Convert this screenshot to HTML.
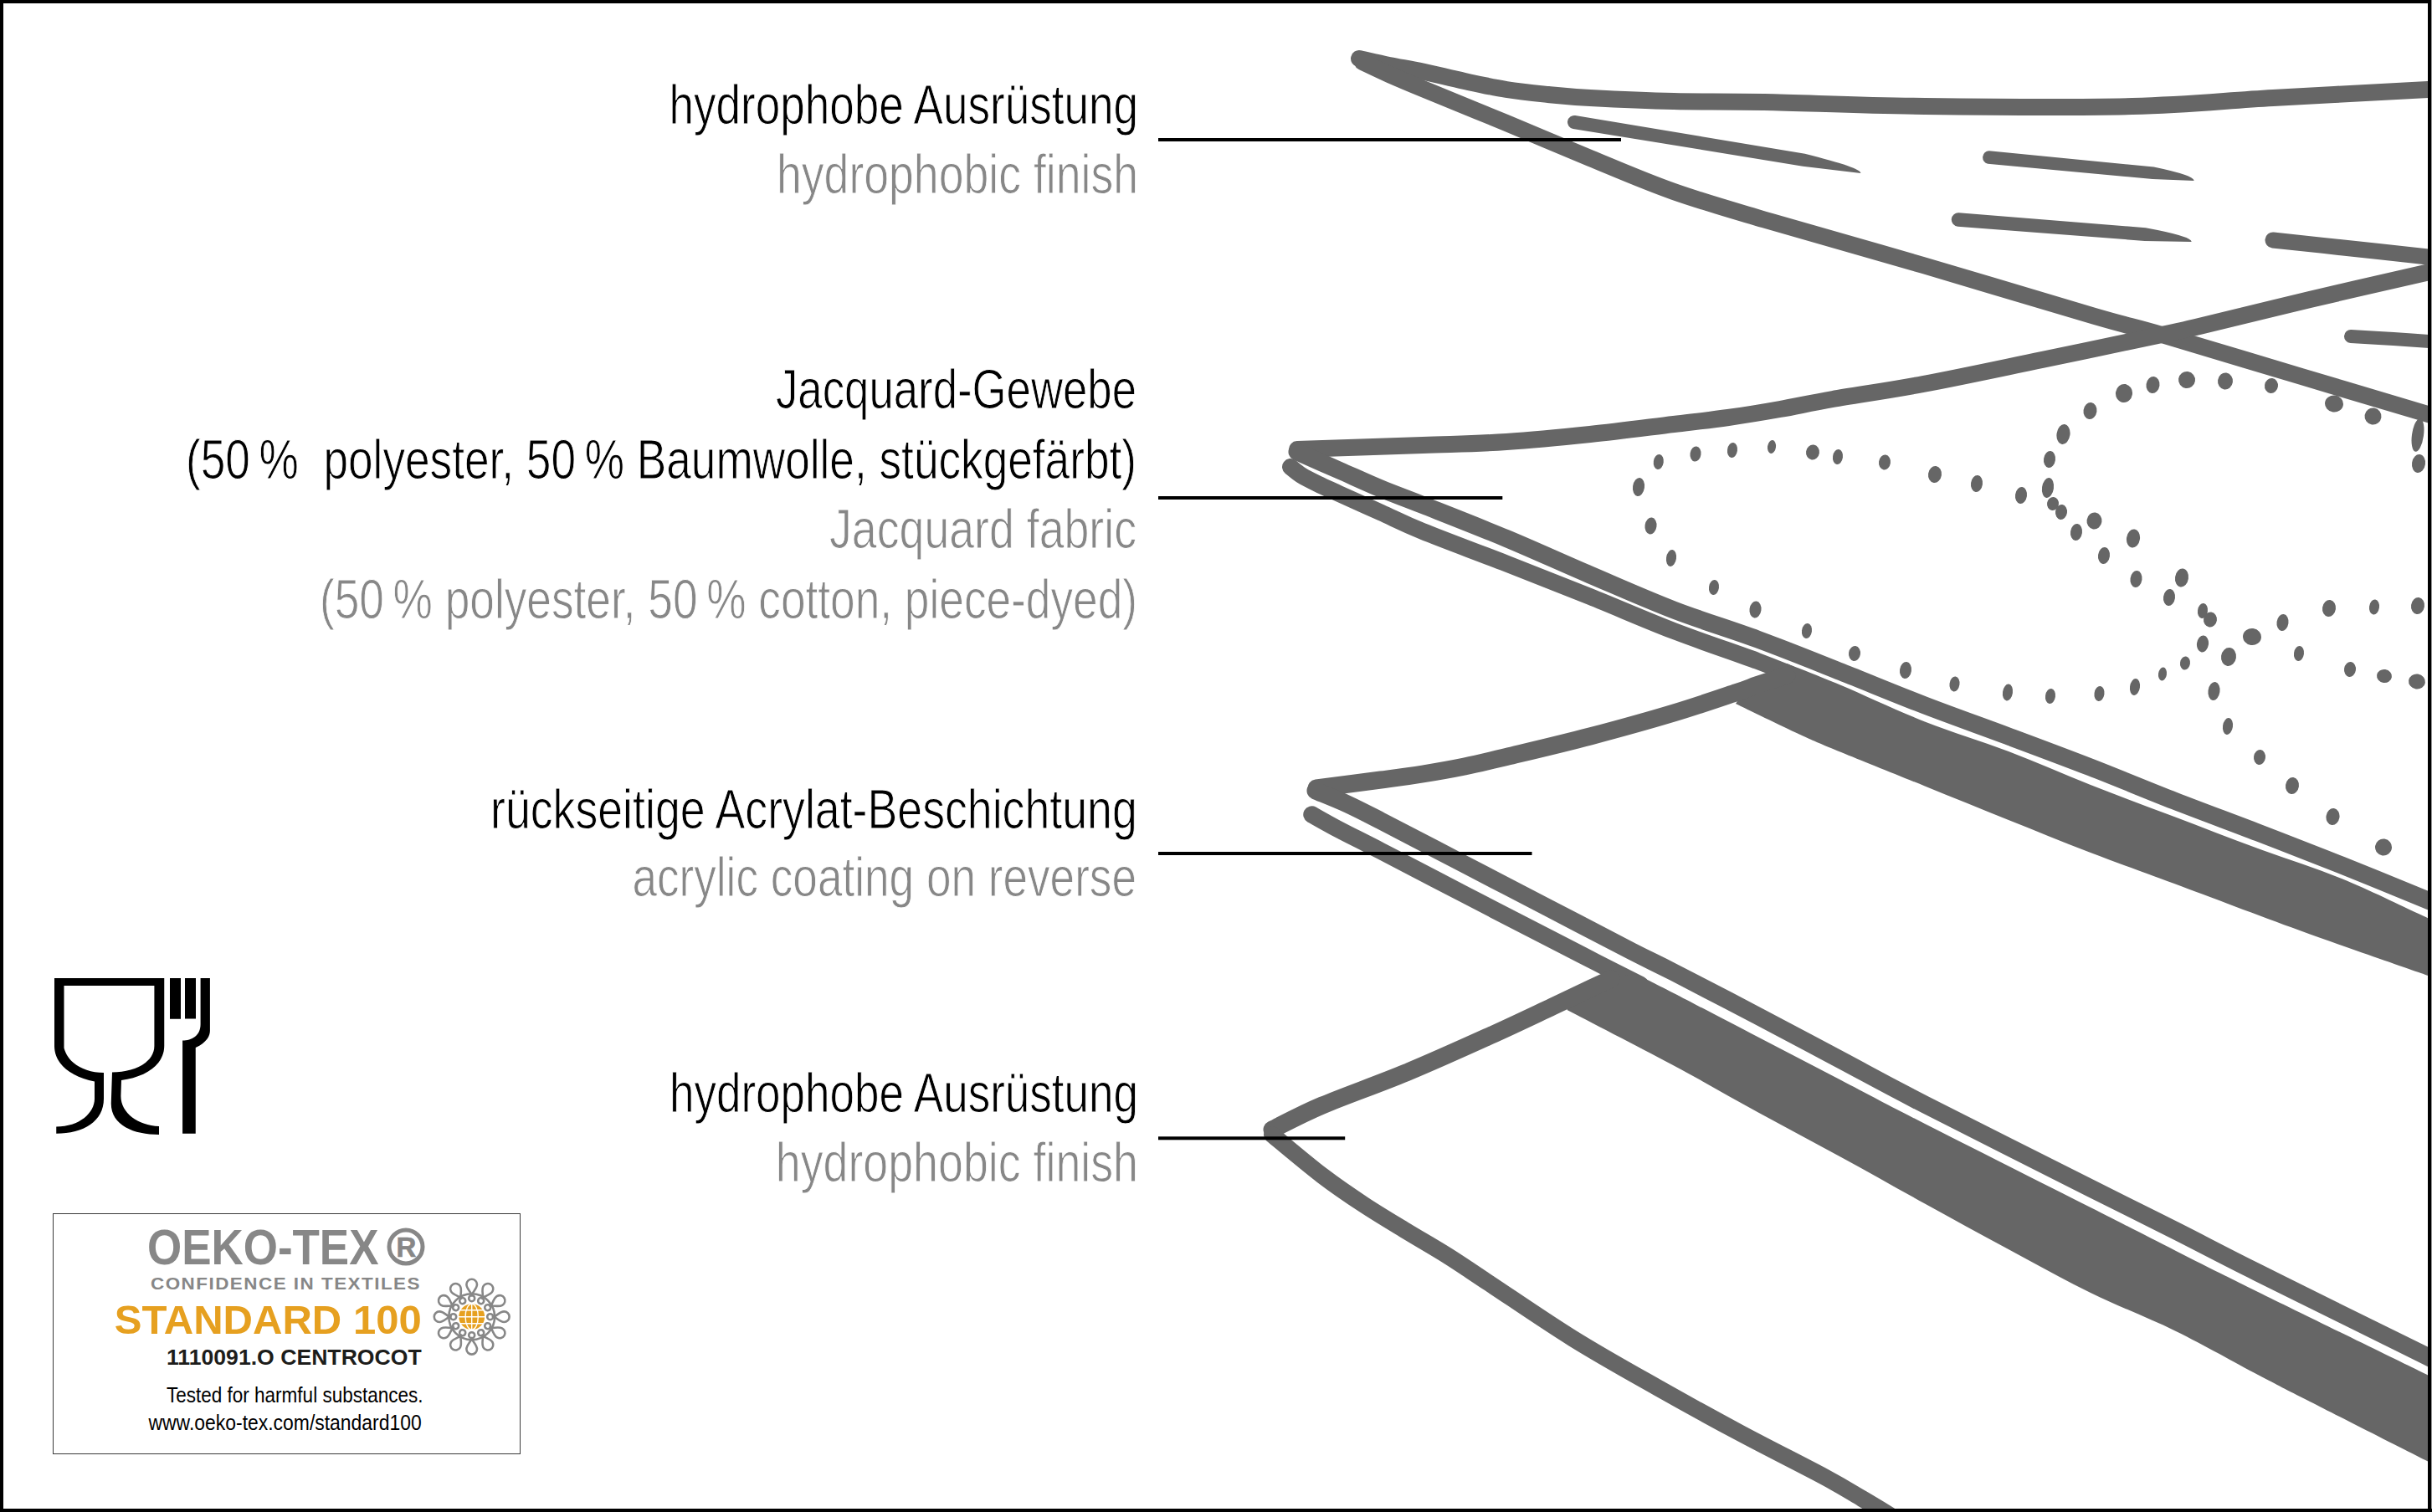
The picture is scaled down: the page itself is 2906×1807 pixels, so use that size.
<!DOCTYPE html>
<html lang="de">
<head>
<meta charset="utf-8">
<title>Materialaufbau</title>
<style>
html,body{margin:0;padding:0;background:#fff;}
body{width:2906px;height:1807px;overflow:hidden;position:relative;font-family:"Liberation Sans",sans-serif;}
#stage{position:absolute;left:0;top:0;width:2906px;height:1807px;display:block;}
.bd{position:absolute;background:#000;}
</style>
</head>
<body>
<svg id="stage" width="2906" height="1807" viewBox="0 0 2906 1807">
<g id="illu">
<path d="M1624,70C1630,71.3 1647.3,75.4 1660,78C1672.7,80.6 1685,82.3 1700,85.5C1715,88.7 1733.3,93.4 1750,97C1766.7,100.6 1783.3,104.3 1800,107C1816.7,109.7 1833.3,111.3 1850,113C1866.7,114.7 1875,115.7 1900,117C1925,118.3 1965.3,120.2 2000,121C2034.7,121.8 2058,121 2108,122C2158,123 2226.7,126.2 2300,127C2373.3,127.8 2478.7,128.7 2548,127C2617.3,125.3 2657.2,120.3 2716,117C2774.8,113.7 2867.8,108.8 2901,107C2934.2,105.2 2912.7,106.2 2915,106" fill="none" stroke="#666666" stroke-width="20" stroke-linecap="round" stroke-linejoin="round"/>
<path d="M1628,74C1633.3,76.5 1648,83.7 1660,89C1672,94.3 1676.7,96.3 1700,106C1723.3,115.7 1766.7,133.2 1800,147C1833.3,160.8 1866.7,175.3 1900,189C1933.3,202.7 1965.3,216.8 2000,229C2034.7,241.2 2058.3,247.8 2108,262.5C2157.7,277.2 2232.2,297.8 2298,317C2363.8,336.2 2455.5,364.2 2503,378C2550.5,391.8 2541.8,388 2583,400C2624.2,412 2697,434.2 2750,450C2803,465.8 2873.5,486.8 2901,495C2928.5,503.2 2912.7,498.3 2915,499" fill="none" stroke="#666666" stroke-width="20" stroke-linecap="round" stroke-linejoin="round"/>
<path d="M1882.3,138.1 L2156.7,183.7 Q2224.4,200.6 2223.3,206.9 L2154.2,198.7 L1879.7,153.9 A8,8 0 0 1 1882.3,138.1 Z" fill="#666666"/>
<path d="M2376.8,180.3 L2573.6,199.5 Q2622.2,209.7 2621.6,215.9 L2572.1,214.1 L2375.2,195.7 A7.8,7.8 0 0 1 2376.8,180.3 Z" fill="#666666"/>
<path d="M2340.7,254.3 L2563.9,272.3 Q2619.2,282.5 2618.7,289.1 L2562.6,287.9 L2339.3,270.7 A8.2,8.2 0 0 1 2340.7,254.3 Z" fill="#666666"/>
<path d="M2716,287C2730,288.5 2769.2,292.7 2800,296C2830.8,299.3 2881.8,304.8 2901,307C2920.2,309.2 2912.7,308.7 2915,309" fill="none" stroke="#666666" stroke-width="19" stroke-linecap="round" stroke-linejoin="round"/>
<path d="M2809,402C2817.5,402.5 2842.3,403.8 2860,405C2877.7,406.2 2905.8,408.3 2915,409" fill="none" stroke="#666666" stroke-width="16" stroke-linecap="round" stroke-linejoin="round"/>
<path d="M1550,537C1575,536.2 1658.3,533.5 1700,532C1741.7,530.5 1766.7,530.2 1800,528C1833.3,525.8 1866.7,522.5 1900,519C1933.3,515.5 1972.5,510.3 2000,507C2027.5,503.7 2043.8,502 2065,499C2086.2,496 2106.2,492.7 2127,489C2147.8,485.3 2161.5,482 2190,477C2218.5,472 2256.3,466.8 2298,459C2339.7,451.2 2392.5,439.8 2440,430C2487.5,420.2 2551.7,406.7 2583,400C2614.3,393.3 2598.5,397 2628,390C2657.5,383 2714.5,368.8 2760,358C2805.5,347.2 2875.2,331.5 2901,325.5C2926.8,319.5 2912.7,322.6 2915,322" fill="none" stroke="#666666" stroke-width="20" stroke-linecap="round" stroke-linejoin="round"/>
<path d="M1550,540C1558.3,543.7 1583.3,554.7 1600,562C1616.7,569.3 1633.3,577.1 1650,584C1666.7,590.9 1675,593.6 1700,603.5C1725,613.4 1766.7,629.6 1800,643.5C1833.3,657.4 1866.7,672.8 1900,687C1933.3,701.2 1966.7,716.2 2000,729C2033.3,741.8 2066.7,751.7 2100,764C2133.3,776.3 2166.7,789.8 2200,803C2233.3,816.2 2266.7,830.2 2300,843C2333.3,855.8 2367,867.7 2400,880C2433,892.3 2465,904.2 2498,917C2531,929.8 2564.7,944 2598,957C2631.3,970 2664.7,982.2 2698,995C2731.3,1007.8 2764.2,1020.5 2798,1034C2831.8,1047.5 2881.5,1068 2901,1076C2920.5,1084 2912.7,1081 2915,1082" fill="none" stroke="#666666" stroke-width="21" stroke-linecap="round" stroke-linejoin="round"/>
<path d="M1542,558C1544.2,559.7 1549.5,564.6 1555,568C1560.5,571.4 1567.5,574.8 1575,578.5C1582.5,582.2 1587.5,584.3 1600,590C1612.5,595.7 1633.3,605 1650,612.5C1666.7,620 1675,624.8 1700,635C1725,645.2 1766.7,660.5 1800,673.5C1833.3,686.5 1866.7,699.6 1900,713C1933.3,726.4 1966.7,741.2 2000,754C2033.3,766.8 2076.7,781.3 2100,790C2123.3,798.7 2133.3,803.3 2140,806" fill="none" stroke="#666666" stroke-width="20" stroke-linecap="round" stroke-linejoin="round"/>
<path d="M2135,793C2145.8,797.3 2172.5,807.4 2200,819C2227.5,830.6 2266.7,849.3 2300,862.5C2333.3,875.7 2367,885.4 2400,898C2433,910.6 2465,925 2498,938C2531,951 2564.7,963.3 2598,976C2631.3,988.7 2664.7,1001.7 2698,1014C2731.3,1026.3 2766,1037 2798,1050C2830,1063 2870.5,1083 2890,1092C2909.5,1101 2910.8,1102 2915,1104L2915,1171C2910.8,1169.5 2917.8,1171.8 2890,1162C2862.2,1152.2 2796.7,1129.7 2748,1112C2699.3,1094.3 2639.7,1071.5 2598,1056C2556.3,1040.5 2531,1031.7 2498,1019C2465,1006.3 2433,993.2 2400,980C2367,966.8 2333.3,953 2300,939.5C2266.7,926 2225,909.3 2200,899C2175,888.7 2171,887.2 2150,877.5C2129,867.8 2086.7,847.1 2074,841L2085,824L2135,806Z" fill="#666666"/>
<g fill="#666666">
<ellipse cx="1981.8" cy="552" rx="6" ry="9" transform="rotate(8 1981.8 552)"/>
<ellipse cx="2026" cy="542.5" rx="6.5" ry="9" transform="rotate(8 2026 542.5)"/>
<ellipse cx="2070" cy="538" rx="6" ry="9" transform="rotate(8 2070 538)"/>
<ellipse cx="2117" cy="534" rx="5" ry="8" transform="rotate(8 2117 534)"/>
<ellipse cx="2166" cy="540.5" rx="8" ry="9" transform="rotate(8 2166 540.5)"/>
<ellipse cx="2196" cy="546" rx="6" ry="9" transform="rotate(8 2196 546)"/>
<ellipse cx="2252" cy="552.5" rx="7" ry="9" transform="rotate(8 2252 552.5)"/>
<ellipse cx="1958" cy="582" rx="7" ry="11" transform="rotate(8 1958 582)"/>
<ellipse cx="1972.5" cy="628.5" rx="7" ry="10" transform="rotate(8 1972.5 628.5)"/>
<ellipse cx="1997" cy="667" rx="6" ry="10" transform="rotate(8 1997 667)"/>
<ellipse cx="2048" cy="702" rx="6" ry="9" transform="rotate(8 2048 702)"/>
<ellipse cx="2097.5" cy="728.5" rx="7" ry="10" transform="rotate(8 2097.5 728.5)"/>
<ellipse cx="2159" cy="754" rx="6" ry="9" transform="rotate(8 2159 754)"/>
<ellipse cx="2312" cy="567" rx="8" ry="10" transform="rotate(8 2312 567)"/>
<ellipse cx="2362" cy="578" rx="7" ry="10" transform="rotate(8 2362 578)"/>
<ellipse cx="2415" cy="592" rx="7" ry="10" transform="rotate(8 2415 592)"/>
<ellipse cx="2449" cy="549" rx="7" ry="10" transform="rotate(8 2449 549)"/>
<ellipse cx="2465.5" cy="519" rx="8" ry="12" transform="rotate(8 2465.5 519)"/>
<ellipse cx="2497.5" cy="491" rx="8" ry="10" transform="rotate(8 2497.5 491)"/>
<ellipse cx="2538" cy="470" rx="10" ry="11" transform="rotate(8 2538 470)"/>
<ellipse cx="2572.5" cy="460" rx="8" ry="10" transform="rotate(8 2572.5 460)"/>
<ellipse cx="2613" cy="454" rx="10" ry="10" transform="rotate(8 2613 454)"/>
<ellipse cx="2659" cy="455.5" rx="9" ry="10" transform="rotate(8 2659 455.5)"/>
<ellipse cx="2714" cy="461" rx="8" ry="9" transform="rotate(8 2714 461)"/>
<ellipse cx="2789" cy="482.5" rx="11" ry="10" transform="rotate(8 2789 482.5)"/>
<ellipse cx="2835.5" cy="497.5" rx="10" ry="10" transform="rotate(8 2835.5 497.5)"/>
<ellipse cx="2889" cy="520" rx="7" ry="20" transform="rotate(8 2889 520)"/>
<ellipse cx="2890" cy="554" rx="8" ry="11" transform="rotate(8 2890 554)"/>
<ellipse cx="2447" cy="583" rx="7" ry="12" transform="rotate(8 2447 583)"/>
<ellipse cx="2453" cy="602" rx="7" ry="8" transform="rotate(8 2453 602)"/>
<ellipse cx="2463" cy="612" rx="7" ry="9" transform="rotate(8 2463 612)"/>
<ellipse cx="2481" cy="636" rx="7" ry="10" transform="rotate(8 2481 636)"/>
<ellipse cx="2502.5" cy="622.5" rx="9" ry="10" transform="rotate(8 2502.5 622.5)"/>
<ellipse cx="2514" cy="664" rx="7" ry="10" transform="rotate(8 2514 664)"/>
<ellipse cx="2549" cy="643.5" rx="8" ry="11" transform="rotate(8 2549 643.5)"/>
<ellipse cx="2552.5" cy="692" rx="7" ry="10" transform="rotate(8 2552.5 692)"/>
<ellipse cx="2607" cy="690.5" rx="8" ry="11" transform="rotate(8 2607 690.5)"/>
<ellipse cx="2592" cy="714" rx="7" ry="10" transform="rotate(8 2592 714)"/>
<ellipse cx="2632" cy="730" rx="6" ry="9" transform="rotate(8 2632 730)"/>
<ellipse cx="2641" cy="740.5" rx="8" ry="9" transform="rotate(8 2641 740.5)"/>
<ellipse cx="2727.5" cy="744" rx="7" ry="10" transform="rotate(8 2727.5 744)"/>
<ellipse cx="2783" cy="727" rx="8" ry="10" transform="rotate(8 2783 727)"/>
<ellipse cx="2837" cy="725.5" rx="6" ry="9" transform="rotate(8 2837 725.5)"/>
<ellipse cx="2889" cy="724" rx="8" ry="10" transform="rotate(8 2889 724)"/>
<ellipse cx="2216" cy="781" rx="7" ry="9" transform="rotate(8 2216 781)"/>
<ellipse cx="2277" cy="801" rx="7" ry="10" transform="rotate(8 2277 801)"/>
<ellipse cx="2335.5" cy="817.5" rx="6" ry="9" transform="rotate(8 2335.5 817.5)"/>
<ellipse cx="2399" cy="827.5" rx="6" ry="10" transform="rotate(8 2399 827.5)"/>
<ellipse cx="2450" cy="832" rx="6" ry="9" transform="rotate(8 2450 832)"/>
<ellipse cx="2508.5" cy="829" rx="6" ry="9" transform="rotate(8 2508.5 829)"/>
<ellipse cx="2691" cy="761" rx="11" ry="10" transform="rotate(8 2691 761)"/>
<ellipse cx="2632" cy="769.5" rx="7" ry="10" transform="rotate(8 2632 769.5)"/>
<ellipse cx="2663" cy="785" rx="9" ry="11" transform="rotate(8 2663 785)"/>
<ellipse cx="2747" cy="781" rx="6" ry="9" transform="rotate(8 2747 781)"/>
<ellipse cx="2808" cy="800" rx="7" ry="9" transform="rotate(8 2808 800)"/>
<ellipse cx="2849" cy="808" rx="9" ry="8" transform="rotate(8 2849 808)"/>
<ellipse cx="2888" cy="814.5" rx="10" ry="9" transform="rotate(8 2888 814.5)"/>
<ellipse cx="2611" cy="792.5" rx="6" ry="8" transform="rotate(8 2611 792.5)"/>
<ellipse cx="2584" cy="805.5" rx="5" ry="8" transform="rotate(8 2584 805.5)"/>
<ellipse cx="2551" cy="821" rx="6" ry="10" transform="rotate(8 2551 821)"/>
<ellipse cx="2645.5" cy="826" rx="7" ry="11" transform="rotate(8 2645.5 826)"/>
<ellipse cx="2662" cy="868" rx="6" ry="10" transform="rotate(8 2662 868)"/>
<ellipse cx="2700" cy="905" rx="7" ry="9" transform="rotate(8 2700 905)"/>
<ellipse cx="2739" cy="939" rx="8" ry="10" transform="rotate(8 2739 939)"/>
<ellipse cx="2787.5" cy="976" rx="8" ry="10" transform="rotate(8 2787.5 976)"/>
<ellipse cx="2848" cy="1012.5" rx="10" ry="10" transform="rotate(8 2848 1012.5)"/>
</g>
<path d="M1573,942C1585.8,940.3 1628.8,934.8 1650,932C1671.2,929.2 1683.3,927.7 1700,925C1716.7,922.3 1733.3,919.4 1750,916C1766.7,912.6 1775,910.5 1800,904.5C1825,898.5 1866.7,888.8 1900,880C1933.3,871.2 1970.8,860.8 2000,852C2029.2,843.2 2058.3,833.1 2075,827.5C2091.7,821.9 2090,821.9 2100,818.5C2110,815.1 2129.2,808.9 2135,807" fill="none" stroke="#666666" stroke-width="21" stroke-linecap="round" stroke-linejoin="round"/>
<path d="M1572,945C1578.3,947.7 1597,955 1610,961C1623,967 1626.7,969 1650,981C1673.3,993 1716.7,1015.7 1750,1033C1783.3,1050.3 1816.7,1067.7 1850,1085C1883.3,1102.3 1925,1124.2 1950,1137C1975,1149.8 1975,1149.2 2000,1162C2025,1174.8 2066.7,1196.5 2100,1214C2133.3,1231.5 2166.7,1249.3 2200,1267C2233.3,1284.7 2250.3,1294.5 2300,1320C2349.7,1345.5 2448,1394.8 2498,1420C2548,1445.2 2566.7,1454.2 2600,1471C2633.3,1487.8 2649.7,1496.8 2698,1521C2746.3,1545.2 2853.8,1598 2890,1616C2926.2,1634 2910.8,1626.8 2915,1629" fill="none" stroke="#666666" stroke-width="21" stroke-linecap="round" stroke-linejoin="round"/>
<path d="M1567.5,973.5C1572.9,976.5 1586.2,984.2 1600,991.5C1613.8,998.8 1625,1004.1 1650,1017C1675,1029.9 1716.7,1051.7 1750,1069C1783.3,1086.3 1823.8,1107.1 1850,1120.6C1876.2,1134.1 1888.7,1140.6 1907,1150C1925.3,1159.4 1951.2,1172.5 1960,1177" fill="none" stroke="#666666" stroke-width="20.5" stroke-linecap="round" stroke-linejoin="round"/>
<path d="M1955,1164C1962.5,1167.8 1975.8,1174.5 2000,1187C2024.2,1199.5 2066.7,1221.7 2100,1239C2133.3,1256.3 2166.7,1273.7 2200,1291C2233.3,1308.3 2250.3,1317.7 2300,1343C2349.7,1368.3 2448,1417.7 2498,1443C2548,1468.3 2566.7,1478.2 2600,1495C2633.3,1511.8 2649.7,1520.2 2698,1544C2746.3,1567.8 2853.8,1620.2 2890,1638C2926.2,1655.8 2910.8,1648.8 2915,1651L2915,1753C2910.8,1751 2915.8,1754 2890,1741C2864.2,1728 2792,1691.3 2760,1675C2728,1658.7 2724.7,1657 2698,1643C2671.3,1629 2633.3,1607.3 2600,1591C2566.7,1574.7 2531.7,1561.5 2498,1545C2464.3,1528.5 2431,1509.8 2398,1492C2365,1474.2 2333,1456.7 2300,1438.5C2267,1420.3 2233.3,1401.2 2200,1383C2166.7,1364.8 2133.3,1347.2 2100,1329C2066.7,1310.8 2037.9,1293.8 2000,1273.5C1962.1,1253.2 1893.8,1218.1 1872.5,1207L1880,1190L1925,1168Z" fill="#666666"/>
<path d="M1520,1350C1530,1345.2 1553.3,1332.3 1580,1321C1606.7,1309.7 1646.7,1295.8 1680,1282C1713.3,1268.2 1750.8,1251.2 1780,1238C1809.2,1224.8 1835.8,1212 1855,1203C1874.2,1194 1883.3,1189.5 1895,1184C1906.7,1178.5 1920,1172.3 1925,1170" fill="none" stroke="#666666" stroke-width="21" stroke-linecap="round" stroke-linejoin="round"/>
<path d="M1520,1356C1530,1364.2 1561.7,1391 1580,1405C1598.3,1419 1613.3,1429 1630,1440C1646.7,1451 1663.3,1460.8 1680,1471C1696.7,1481.2 1713.3,1490.5 1730,1501C1746.7,1511.5 1755,1517.5 1780,1534C1805,1550.5 1846.7,1579.3 1880,1600C1913.3,1620.7 1946.7,1639.2 1980,1658C2013.3,1676.8 2046.7,1695.2 2080,1713C2113.3,1730.8 2155.8,1752 2180,1765C2204.2,1778 2211.7,1783.2 2225,1791C2238.3,1798.8 2254.2,1808.5 2260,1812" fill="none" stroke="#666666" stroke-width="20" stroke-linecap="round" stroke-linejoin="round"/>
</g>
<g fill="#000">
<rect x="1384" y="165" width="553" height="4"/>
<rect x="1384" y="593" width="411.3" height="4"/>
<rect x="1384" y="1018" width="446.5" height="4"/>
<rect x="1384" y="1358.3" width="223.2" height="4"/>
</g>
<g font-family="'Liberation Sans', sans-serif" font-size="67" xml:space="preserve" stroke="#fff" stroke-width="1">
<text id="t0" x="799.5" y="148" textLength="560.5" lengthAdjust="spacingAndGlyphs" fill="#000">hydrophobe Ausrüstung</text>
<text id="t1" x="928" y="231.2" textLength="432" lengthAdjust="spacingAndGlyphs" fill="#878787">hydrophobic finish</text>
<text id="t2" x="927" y="487.5" textLength="431" lengthAdjust="spacingAndGlyphs" fill="#000">Jacquard-Gewebe</text>
<text id="t3" x="222" y="571.5" textLength="1136" lengthAdjust="spacingAndGlyphs" fill="#000">(50 %  polyester, 50 % Baumwolle, stückgefärbt)</text>
<text id="t4" x="991" y="655" textLength="367" lengthAdjust="spacingAndGlyphs" fill="#878787">Jacquard fabric</text>
<text id="t5" x="382" y="738.5" textLength="977" lengthAdjust="spacingAndGlyphs" fill="#878787">(50 % polyester, 50 % cotton, piece-dyed)</text>
<text id="t6" x="586" y="990" textLength="772.8" lengthAdjust="spacingAndGlyphs" fill="#000">rückseitige Acrylat-Beschichtung</text>
<text id="t7" x="755.4" y="1071.3" textLength="602.6" lengthAdjust="spacingAndGlyphs" fill="#878787">acrylic coating on reverse</text>
<text id="t8" x="800" y="1329.2" textLength="560" lengthAdjust="spacingAndGlyphs" fill="#000">hydrophobe Ausrüstung</text>
<text id="t9" x="926.8" y="1411.7" textLength="433.2" lengthAdjust="spacingAndGlyphs" fill="#878787">hydrophobic finish</text>
</g>
<path d="M65,1169H196.25V1250C196.25,1272 175,1287 145,1291L144.4,1310C144.4,1330 165,1345 190,1346V1356C160,1356 132.75,1345 132.75,1318.75L134,1281.5C160,1281.5 184.4,1270 184.4,1250V1178H76.5V1252.5C81,1270 100,1282 124,1282V1313C124,1340 100,1354.75 67.25,1354.75V1346.5C95,1346.5 113,1330 113,1313V1292.5C85,1287 65,1272 65,1250Z" fill="#000"/>
<rect x="203" y="1169" width="13" height="48.75" fill="#000"/>
<rect x="221" y="1169" width="13" height="48.5" fill="#000"/>
<path d="M239.6,1169H250.9V1232C250.9,1238 247,1246 233.75,1252V1354.75H218.1V1243.5C229,1243.5 239.6,1238 239.6,1224Z" fill="#000"/>
<rect x="63.5" y="1450.5" width="558" height="287" fill="#fff" stroke="#3a3a3a" stroke-width="1"/>
<g font-family="'Liberation Sans', sans-serif" font-weight="bold">
<text id="o0" x="176" y="1511" font-size="59" textLength="276.5" lengthAdjust="spacingAndGlyphs" fill="#878787">OEKO-TEX</text>
<circle cx="485" cy="1490" r="20" fill="none" stroke="#878787" stroke-width="5"/>
<text id="o0r" x="485.3" y="1501.5" font-size="33" text-anchor="middle" fill="#878787" stroke="#878787" stroke-width="0.6">R</text>
<text id="o1" x="180" y="1541" font-size="21" letter-spacing="1.4" textLength="323" lengthAdjust="spacingAndGlyphs" fill="#878787">CONFIDENCE IN TEXTILES</text>
<text id="o2" x="136.75" y="1594" font-size="48" textLength="367" lengthAdjust="spacingAndGlyphs" fill="#e6a020">STANDARD 100</text>
<text id="o3" x="199" y="1630.5" font-size="26" textLength="304.75" lengthAdjust="spacingAndGlyphs" fill="#1d1d1b">1110091.O CENTROCOT</text>
</g>
<g font-family="'Liberation Sans', sans-serif" font-size="25" fill="#000">
<text id="o4" x="199" y="1676" textLength="306.5" lengthAdjust="spacingAndGlyphs">Tested for harmful substances.</text>
<text id="o5" x="177.5" y="1708.75" textLength="326.25" lengthAdjust="spacingAndGlyphs">www.oeko-tex.com/standard100</text>
</g>
<g transform="translate(563.7 1573.7)" fill="none" stroke="#878787" stroke-width="2.6">
<circle r="27.4"/>
<g transform="rotate(0)">
<path d="M0,-26.5C-2,-30.5 -6.3,-34 -6.3,-38.6a6.3,6.3 0 1,1 12.6,0C6.3,-34 2,-30.5 0,-26.5Z"/>
<circle cx="0" cy="-22" r="3.5"/>
</g>
<g transform="rotate(30)">
<path d="M0,-26.5C-2,-30.5 -6.3,-34 -6.3,-38.6a6.3,6.3 0 1,1 12.6,0C6.3,-34 2,-30.5 0,-26.5Z"/>
<circle cx="0" cy="-22" r="3.5"/>
</g>
<g transform="rotate(60)">
<path d="M0,-26.5C-2,-30.5 -6.3,-34 -6.3,-38.6a6.3,6.3 0 1,1 12.6,0C6.3,-34 2,-30.5 0,-26.5Z"/>
<circle cx="0" cy="-22" r="3.5"/>
</g>
<g transform="rotate(90)">
<path d="M0,-26.5C-2,-30.5 -6.3,-34 -6.3,-38.6a6.3,6.3 0 1,1 12.6,0C6.3,-34 2,-30.5 0,-26.5Z"/>
<circle cx="0" cy="-22" r="3.5"/>
</g>
<g transform="rotate(120)">
<path d="M0,-26.5C-2,-30.5 -6.3,-34 -6.3,-38.6a6.3,6.3 0 1,1 12.6,0C6.3,-34 2,-30.5 0,-26.5Z"/>
<circle cx="0" cy="-22" r="3.5"/>
</g>
<g transform="rotate(150)">
<path d="M0,-26.5C-2,-30.5 -6.3,-34 -6.3,-38.6a6.3,6.3 0 1,1 12.6,0C6.3,-34 2,-30.5 0,-26.5Z"/>
<circle cx="0" cy="-22" r="3.5"/>
</g>
<g transform="rotate(180)">
<path d="M0,-26.5C-2,-30.5 -6.3,-34 -6.3,-38.6a6.3,6.3 0 1,1 12.6,0C6.3,-34 2,-30.5 0,-26.5Z"/>
<circle cx="0" cy="-22" r="3.5"/>
</g>
<g transform="rotate(210)">
<path d="M0,-26.5C-2,-30.5 -6.3,-34 -6.3,-38.6a6.3,6.3 0 1,1 12.6,0C6.3,-34 2,-30.5 0,-26.5Z"/>
<circle cx="0" cy="-22" r="3.5"/>
</g>
<g transform="rotate(240)">
<path d="M0,-26.5C-2,-30.5 -6.3,-34 -6.3,-38.6a6.3,6.3 0 1,1 12.6,0C6.3,-34 2,-30.5 0,-26.5Z"/>
<circle cx="0" cy="-22" r="3.5"/>
</g>
<g transform="rotate(270)">
<path d="M0,-26.5C-2,-30.5 -6.3,-34 -6.3,-38.6a6.3,6.3 0 1,1 12.6,0C6.3,-34 2,-30.5 0,-26.5Z"/>
<circle cx="0" cy="-22" r="3.5"/>
</g>
<g transform="rotate(300)">
<path d="M0,-26.5C-2,-30.5 -6.3,-34 -6.3,-38.6a6.3,6.3 0 1,1 12.6,0C6.3,-34 2,-30.5 0,-26.5Z"/>
<circle cx="0" cy="-22" r="3.5"/>
</g>
<g transform="rotate(330)">
<path d="M0,-26.5C-2,-30.5 -6.3,-34 -6.3,-38.6a6.3,6.3 0 1,1 12.6,0C6.3,-34 2,-30.5 0,-26.5Z"/>
<circle cx="0" cy="-22" r="3.5"/>
</g>
</g>
<g transform="translate(563.7 1573.7)">
<circle r="15.4" fill="#e6a020"/>
<g stroke="#fff" stroke-width="1.4" fill="none">
<path d="M0,-16V16M-16,0H16M-14,-8H14M-14,8H14"/>
<ellipse rx="7.6" ry="15.4"/>
</g></g>
</svg>
<div class="bd" style="left:0;top:0;width:2906px;height:4px"></div>
<div class="bd" style="left:0;top:0;width:4px;height:1807px"></div>
<div class="bd" style="left:2901px;top:0;width:4px;height:1807px"></div>
<div class="bd" style="left:2905px;top:0;width:1px;height:1807px;background:#9a9a9a"></div>
<div class="bd" style="left:0;top:1803px;width:2906px;height:4px"></div>
</body>
</html>
